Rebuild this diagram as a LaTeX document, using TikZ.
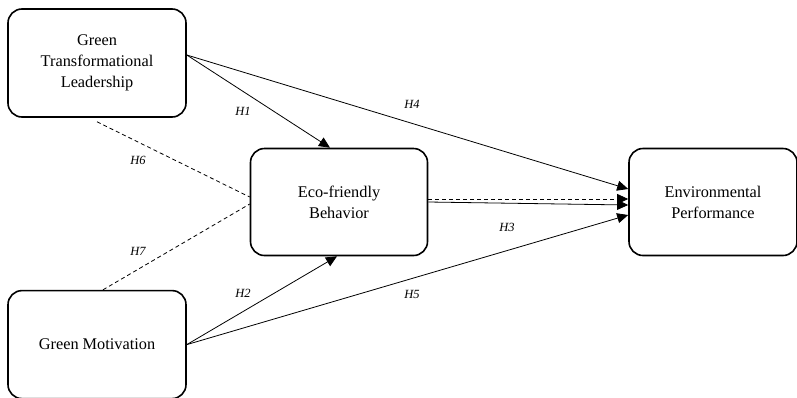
\documentclass[tikz,border=0pt]{standalone}
\usepackage{fontspec}
\setmainfont{Liberation Serif}
\usepackage{tikz}
\usetikzlibrary{positioning,arrows.meta}

\begin{document}
\begin{tikzpicture}[
    x=1pt, y=-1pt,
    construct/.style={rectangle, draw=black, line width=1.6pt, rounded corners=14pt, minimum width=178pt, minimum height=108pt, align=center, font=\fontsize{16.3}{21}\selectfont, inner sep=0pt},
    path/.style={-{Triangle[length=11pt,width=10pt]}, line width=0.8pt, black},
    moderation/.style={dash pattern=on 4pt off 3pt, line width=0.8pt, black},
    hyp/.style={font=\fontsize{12.5}{14}\selectfont\itshape, inner sep=1pt}
]
    \useasboundingbox (0,0) rectangle (797,397);

    \node[construct] (gtl) at (97,63) {Green\\Transformational\\Leadership};
    \node[construct, below=172pt of gtl] (gm) {Green Motivation};
    \node[construct, minimum width=177pt, minimum height=107pt] (efb) at (339,202) {Eco-friendly\\Behavior};
    \node[construct, minimum width=168pt, minimum height=107pt] (ep) at (713,202) {Environmental\\Performance};

    % direct paths
    \draw[path] ([yshift=8pt]gtl.east) -- ([xshift=-9pt]efb.north);
    \draw[path] (gm.east) -- ([xshift=-2pt]efb.south);
    \draw[path] ([yshift=8pt]gtl.east) -- ([yshift=13pt]ep.west);
    \draw[path] (gm.east) -- ([yshift=-13pt]ep.west);
    \draw[path] (efb.east) -- ([yshift=-3pt]ep.west);
    \draw[path, dash pattern=on 4pt off 3pt] ([yshift=3pt]efb.east) -- ([yshift=3pt]ep.west);

    % mediation links
    \draw[moderation] ([yshift=-4pt]gtl.south) -- ([yshift=5pt]efb.west);
    \draw[moderation] ([xshift=6pt]gm.north) -- ([yshift=-2pt]efb.west);

    \node[hyp] (h1) at (243,111) {H1};
    \node[hyp] (h2) at (243,293) {H2};
    \node[hyp] (h3) at (507,227) {H3};
    \node[hyp] (h4) at (412,104) {H4};
    \node[hyp] (h5) at (412,294) {H5};
    \node[hyp] (h6) at (138,160) {H6};
    \node[hyp] (h7) at (138,251) {H7};
\end{tikzpicture}
\end{document}
